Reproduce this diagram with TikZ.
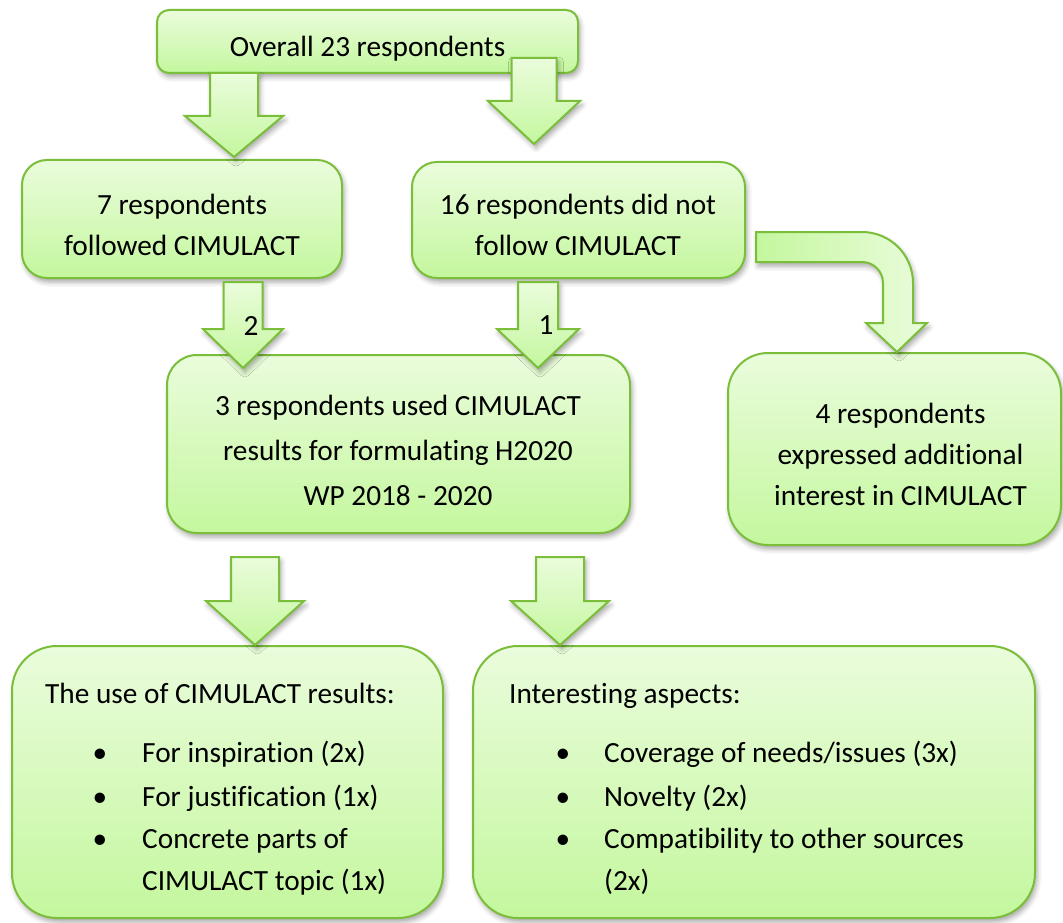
\documentclass[tikz,border=0pt]{standalone}
\usepackage{fontspec}
\setmainfont{Carlito}[Ligatures={NoCommon}]
\usetikzlibrary{calc,shadows.blur}
\definecolor{gtop}{RGB}{234,252,220}
\definecolor{gbot}{RGB}{196,247,158}
\definecolor{gline}{RGB}{122,190,58}
\tikzset{
  shd/.style={blur shadow={shadow xshift=2pt, shadow yshift=-4pt, shadow blur radius=5pt, shadow opacity=35}},
  boxsty/.style={draw=gline, line width=2pt, top color=gtop, bottom color=gbot, shd, inner sep=0pt},
  arrowsty/.style={draw=gline, line width=2pt, line join=miter, top color=gtop, bottom color=gbot, shd},
  bentsty/.style={draw=gline, line width=2pt, line join=miter, left color=gbot, right color=gtop, shd},
  txt/.style={inner sep=0pt, anchor=base},
  ltxt/.style={inner sep=0pt, anchor=base west},
}
% #1 tip, #2 half shaft, #3 half head, #4 head length, #5 total length
\newcommand\blockarrow[5]{\draw[arrowsty] (#1) -- ++({#3},{-#4}) -- ++({#2-#3},0) -- ++(0,{#4-#5}) -- ++({-2*#2},0) -- ++(0,{#5-#4}) -- ++({#2-#3},0) -- cycle;}
\begin{document}
\begin{tikzpicture}[x=1pt,y=-1pt,font=\fontsize{29.3}{35}\selectfont]
\useasboundingbox (0,0) rectangle (1063,923);
% boxes
\node[boxsty, rounded corners=12pt, minimum width=421pt, minimum height=63pt] (top) at (367.5,41.5) {};
\node[boxsty, rounded corners=25pt, minimum width=320pt, minimum height=118pt] (b7) at (182,219) {};
\node[boxsty, rounded corners=25pt, minimum width=333pt, minimum height=116pt] (b16) at (578.5,220) {};
\node[boxsty, rounded corners=30pt, minimum width=463pt, minimum height=178pt] (b3) at (398.5,444) {};
\node[boxsty, rounded corners=40pt, minimum width=333pt, minimum height=192pt] (b4) at (894.5,449) {};
\node[boxsty, rounded corners=45pt, minimum width=431pt, minimum height=272pt] (bl) at (227.5,782) {};
\node[boxsty, rounded corners=45pt, minimum width=562pt, minimum height=272pt] (br) at (754,782) {};
% arrow tips
\coordinate (tipA) at (234,157);
\coordinate (tipB) at (534,144);
\coordinate (tipC) at (243,368);
\coordinate (tipD) at (538,368);
\coordinate (tipE) at (255,645);
\coordinate (tipF) at (560,645);
\blockarrow{tipA}{24}{49}{41}{84}
\blockarrow{tipB}{22.5}{46}{43}{86}
\blockarrow{tipC}{19.5}{40}{39}{86}
\blockarrow{tipD}{20}{41}{39}{86}
\blockarrow{tipE}{24}{49}{44}{88}
\blockarrow{tipF}{24}{49}{44}{88}
% bent arrow
\coordinate (bs) at (756,232);
\draw[bentsty] (bs) -- (862,232) arc[start angle=90,end angle=0,radius=51pt] -- (913,323) -- (927,323) -- (897,352) -- (866,323) -- (883,323) -- (883,283) arc[start angle=0,end angle=90,radius=21pt] -- (756,262) -- cycle;
% texts
\node[txt] (t0) at (367.5,57) {Overall 23 respondents};
\node[txt] (t7a) at (182,214) {7 respondents};
\node[txt] (t7b) at (182,255) {followed CIMULACT};
\node[txt] (t16a) at (578,214) {16 respondents did not};
\node[txt] (t16b) at (578,255) {follow CIMULACT};
\node[txt] (l2) at (251,335) {2};
\node[txt] (l1) at (546,334) {1};
\node[txt] (t3a) at (398,415) {3 respondents used CIMULACT};
\node[txt] (t3b) at (398,460) {results for formulating H2020};
\node[txt] (t3c) at (398,505) {WP 2018 - 2020};
\node[txt] (t4a) at (900.5,423) {4 respondents};
\node[txt] (t4b) at (900.5,464) {expressed additional};
\node[txt] (t4c) at (900.5,505) {interest in CIMULACT};
% bottom left
\node[ltxt] (blh) at (45,703) {The use of CIMULACT results:};
\node[txt] (blb1) at (100,762) {\textbullet};
\node[txt] (blb2) at (100,806) {\textbullet};
\node[txt] (blb3) at (100,848) {\textbullet};
\node[ltxt] (bli1) at (142,762) {For inspiration (2x)};
\node[ltxt] (bli2) at (142,806) {For justification (1x)};
\node[ltxt] (bli3) at (142,848) {Concrete parts of};
\node[ltxt] (bli4) at (142,890) {CIMULACT topic (1x)};
% bottom right
\node[ltxt] (brh) at (509,703) {Interesting aspects:};
\node[txt] (brb1) at (563,762) {\textbullet};
\node[txt] (brb2) at (563,806) {\textbullet};
\node[txt] (brb3) at (563,848) {\textbullet};
\node[ltxt] (bri1) at (604,762) {Coverage of needs/issues (3x)};
\node[ltxt] (bri2) at (604,806) {Novelty (2x)};
\node[ltxt] (bri3) at (604,848) {Compatibility to other sources};
\node[ltxt] (bri4) at (604,890) {(2x)};
\end{tikzpicture}
\end{document}
